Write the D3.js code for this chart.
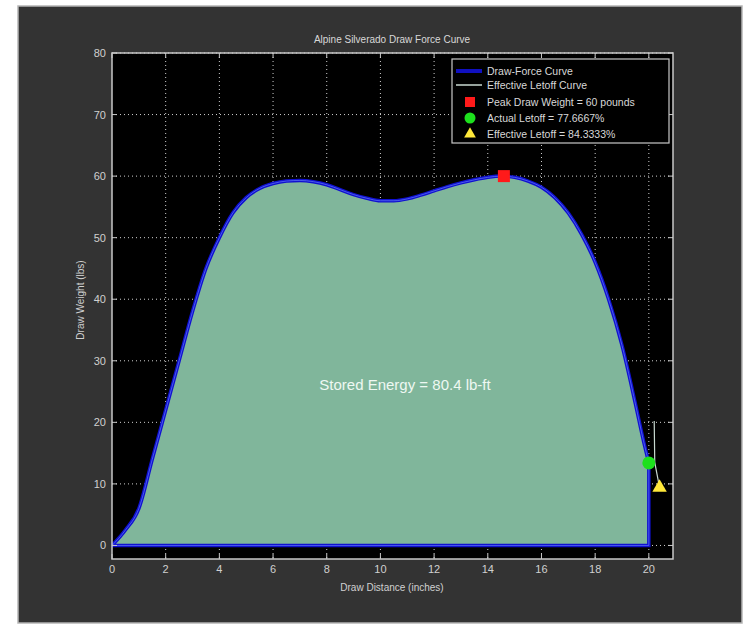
<!DOCTYPE html>
<html>
<head>
<meta charset="utf-8">
<script src="https://cdn.jsdelivr.net/npm/d3@7"></script>
<style>
  body { margin: 0; background: #fff; }
  text { font-family: "Liberation Sans", Arial, sans-serif; }
</style>
</head>
<body>
<script>
const width = 746, height = 626

// draw-force data (inches, lbs)
const distance = [0, 0.5, 1.0, 1.5, 2.0, 2.5, 3.0, 3.5, 4.0, 4.5, 5.0, 5.5, 6.0, 6.5, 7.0, 7.5, 8.0, 8.5, 9.0, 9.5, 10.0,
    10.5, 11.0, 11.5, 12.0, 12.5, 13.0, 13.5, 14.0, 14.5, 15.0, 15.5, 16.0, 16.5, 17.0, 17.5, 18.0, 18.5, 19.0, 19.5, 19.8, 20.0]
const weight = [0, 2.5, 6, 14, 22, 30, 38, 45, 50, 54, 56.5, 58, 58.8, 59.2, 59.3, 59.1, 58.6, 57.8, 57.0, 56.4, 56.0,
    56.0, 56.3, 56.9, 57.6, 58.3, 58.9, 59.4, 59.8, 60.0, 59.8, 59.2, 58.2, 56.5, 54.0, 50.5, 46.0, 40.0, 32.5, 23.0, 17.0, 13.4]

const letoffDist = [20.2, 20.22, 20.4]
const letoffWeight = [20.2, 13.5, 9.4]

const peak = [14.6, 60]
const actualLetoff = [20.0, 13.4]
const effectiveLetoff = [20.4, 9.4]

const xTicks = [0, 2, 4, 6, 8, 10, 12, 14, 16, 18, 20]
const yTicks = [0, 10, 20, 30, 40, 50, 60, 70, 80]

const legendLabels = ["Draw-Force Curve", "Effective Letoff Curve", "Peak Draw Weight = 60 pounds",
    "Actual Letoff = 77.6667%", "Effective Letoff = 84.3333%"]

let svg = d3.select("body")
    .append("svg")
    .attr("width", width)
    .attr("height", height)

// figure frame
svg.append("rect")
    .attr("x", 18).attr("y", 6)
    .attr("width", 724).attr("height", 617)
    .attr("fill", "#333333")
    .attr("stroke", "#b5b5b5")
    .attr("stroke-width", 1.5)

const x = d3.scaleLinear().domain([0, 20.9]).range([112, 673])
const y = d3.scaleLinear().domain([-2.2, 80]).range([559, 53])

// axes background
svg.append("rect")
    .attr("x", x(0)).attr("y", y(80))
    .attr("width", x(20.9) - x(0)).attr("height", y(-2.2) - y(80))
    .attr("fill", "#000")

// grid
let grid = svg.append("g")
grid.selectAll(".gx").data(xTicks.slice(1))
    .join("line")
    .attr("x1", d => x(d)).attr("x2", d => x(d))
    .attr("y1", y(80)).attr("y2", y(-2.2))
grid.selectAll(".gy").data(yTicks)
    .join("line")
    .attr("x1", x(0)).attr("x2", x(20.9))
    .attr("y1", d => y(d)).attr("y2", d => y(d))
grid.selectAll("line")
    .attr("stroke", "#cfcfcf")
    .attr("stroke-width", 1)
    .attr("stroke-dasharray", "1,3")

const pts = distance.map((d, i) => [d, weight[i]])
const area = d3.area()
    .curve(d3.curveMonotoneX)
    .x(d => x(d[0]))
    .y0(y(0))
    .y1(d => y(d[1]))

svg.append("path")
    .datum(pts)
    .attr("d", area)
    .attr("fill", "#80b69b")

// draw-force curve outline, then straight down and back along zero
const curveLine = d3.line().curve(d3.curveMonotoneX).x(d => x(d[0])).y(d => y(d[1]))
const line = d3.line().x(d => x(d[0])).y(d => y(d[1]))
const outlineD = curveLine(pts) + line([[20, 13.4], [20, 0], [0, 0]]).replace("M", "L")
;[["#1010d0", 3.5, 1], ["#6f8cff", 1, 0.6]].forEach(([c, w, o]) => {
    svg.append("path")
        .attr("d", outlineD)
        .attr("fill", "none")
        .attr("stroke", c)
        .attr("stroke-width", w)
        .attr("opacity", o)
})

// effective letoff curve
svg.append("path")
    .datum(letoffDist.map((d, i) => [d, letoffWeight[i]]))
    .attr("d", line)
    .attr("fill", "none")
    .attr("stroke", "#c8d8d0")
    .attr("stroke-width", 1.2)

// markers
svg.append("rect")
    .attr("x", x(peak[0]) - 6).attr("y", y(peak[1]) - 6)
    .attr("width", 12).attr("height", 12)
    .attr("fill", "#ff1a1a")
svg.append("circle")
    .attr("cx", x(actualLetoff[0])).attr("cy", y(actualLetoff[1]))
    .attr("r", 6.5)
    .attr("fill", "#1de01d")
svg.append("path")
    .attr("d", d3.symbol(d3.symbolTriangle, 90)())
    .attr("transform", `translate(${x(effectiveLetoff[0])},${y(effectiveLetoff[1])})`)
    .attr("fill", "#ffe83a")

svg.append("text")
    .attr("x", 405).attr("y", 390)
    .attr("text-anchor", "middle")
    .attr("fill", "#eef8f2")
    .style("font-size", "15px")
    .text("Stored Energy = 80.4 lb-ft")

// box and ticks
const axisColor = "#c8c8c8"
svg.append("rect")
    .attr("x", x(0)).attr("y", y(80))
    .attr("width", x(20.9) - x(0)).attr("height", y(-2.2) - y(80))
    .attr("fill", "none")
    .attr("stroke", axisColor)
    .attr("stroke-width", 1.5)

let ticks = svg.append("g").attr("stroke", axisColor).attr("stroke-width", 1)
xTicks.forEach(t => {
    ticks.append("line").attr("x1", x(t)).attr("x2", x(t)).attr("y1", y(-2.2)).attr("y2", y(-2.2) - 5)
    ticks.append("line").attr("x1", x(t)).attr("x2", x(t)).attr("y1", y(80)).attr("y2", y(80) + 5)
})
yTicks.forEach(t => {
    ticks.append("line").attr("x1", x(0)).attr("x2", x(0) + 5).attr("y1", y(t)).attr("y2", y(t))
    ticks.append("line").attr("x1", x(20.9)).attr("x2", x(20.9) - 5).attr("y1", y(t)).attr("y2", y(t))
})

svg.append("g").selectAll("text").data(xTicks)
    .join("text")
    .attr("x", d => x(d)).attr("y", 573)
    .attr("text-anchor", "middle")
    .attr("fill", "#d0d0d0")
    .style("font-size", "11px")
    .text(d => d)

svg.append("g").selectAll("text").data(yTicks)
    .join("text")
    .attr("x", 106).attr("y", d => y(d) + 4)
    .attr("text-anchor", "end")
    .attr("fill", "#d0d0d0")
    .style("font-size", "11px")
    .text(d => d)

svg.append("text")
    .attr("x", 392).attr("y", 43)
    .attr("text-anchor", "middle")
    .attr("fill", "#d8d8d8")
    .style("font-size", "10px")
    .text("Alpine Silverado Draw Force Curve")

svg.append("text")
    .attr("x", 392).attr("y", 591)
    .attr("text-anchor", "middle")
    .attr("fill", "#d0d0d0")
    .style("font-size", "10px")
    .text("Draw Distance (inches)")

svg.append("text")
    .attr("transform", "translate(84,300) rotate(-90)")
    .attr("text-anchor", "middle")
    .attr("fill", "#d0d0d0")
    .style("font-size", "10px")
    .text("Draw Weight (lbs)")

// legend
let lg = svg.append("g")
lg.append("rect")
    .attr("x", 452).attr("y", 59)
    .attr("width", 217).attr("height", 84)
    .attr("fill", "#000")
    .attr("stroke", axisColor)
    .attr("stroke-width", 1.2)
const rowY = [71, 85, 102, 118, 134]
lg.selectAll("text").data(legendLabels)
    .join("text")
    .attr("x", 487).attr("y", (d, i) => rowY[i] + 4)
    .attr("fill", "#d8d8d8")
    .style("font-size", "10.5px")
    .text(d => d)
lg.append("line").attr("x1", 456).attr("x2", 482).attr("y1", rowY[0]).attr("y2", rowY[0])
    .attr("stroke", "#1010c0").attr("stroke-width", 4)
lg.append("line").attr("x1", 456).attr("x2", 482).attr("y1", rowY[1]).attr("y2", rowY[1])
    .attr("stroke", "#c8d8d0").attr("stroke-width", 1.5)
lg.append("rect").attr("x", 465).attr("y", rowY[2] - 5).attr("width", 10).attr("height", 10)
    .attr("fill", "#ff1a1a")
lg.append("circle").attr("cx", 470).attr("cy", rowY[3]).attr("r", 5.5).attr("fill", "#1de01d")
lg.append("path")
    .attr("d", d3.symbol(d3.symbolTriangle, 60)())
    .attr("transform", `translate(470,${rowY[4]})`)
    .attr("fill", "#ffe83a")
</script>
</body>
</html>
